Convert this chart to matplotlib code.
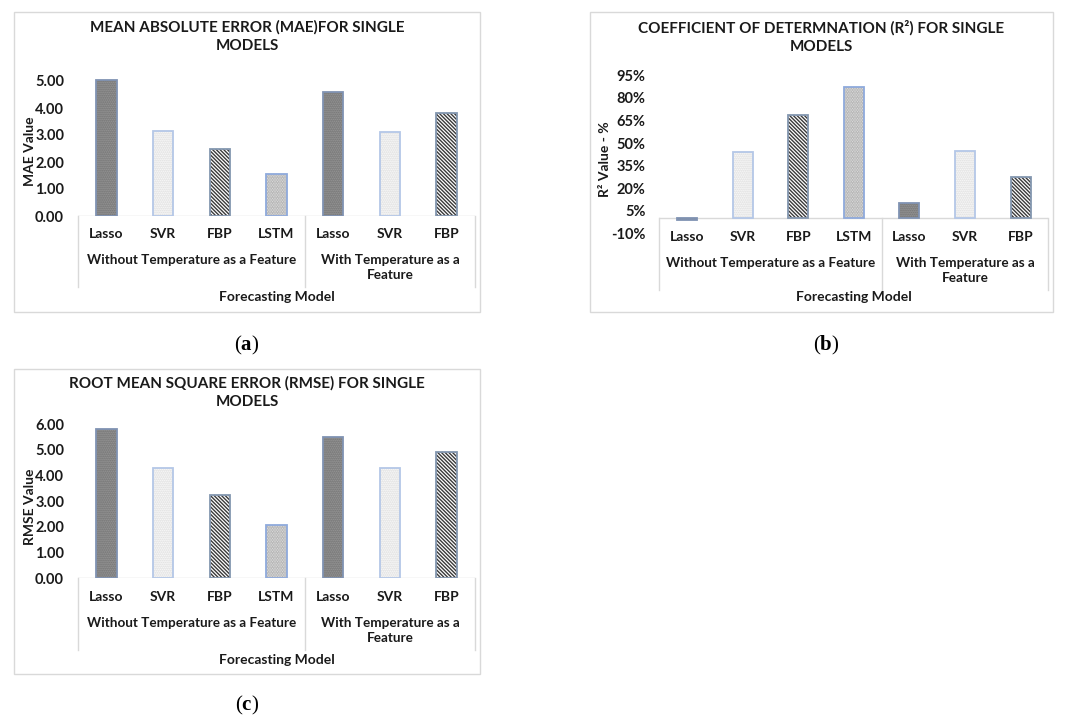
import matplotlib.pyplot as plt
import matplotlib.transforms as mtransforms
from matplotlib.patches import Rectangle
from matplotlib.ticker import FuncFormatter

plt.rcParams['font.family'] = ['Lato', 'DejaVu Sans']
plt.rcParams['hatch.linewidth'] = 1.0
plt.rcParams['mathtext.fontset'] = 'custom'
plt.rcParams['mathtext.rm'] = 'Liberation Serif'
plt.rcParams['mathtext.bf'] = 'Liberation Serif:bold'

W, H = 1067, 716

models = ["Lasso", "SVR", "FBP", "LSTM", "Lasso", "SVR", "FBP"]
groups = ["Without Temperature as a Feature", "With Temperature as a\nFeature"]
group_sizes = [4, 3]

mae = [5.02, 3.15, 2.50, 1.55, 4.59, 3.10, 3.80]
r2 = [-1.0, 44.2, 68.6, 87.2, 10.1, 44.8, 27.4]
rmse = [5.80, 4.31, 3.23, 2.06, 5.49, 4.28, 4.92]

# face, hatch, hatch colour, border colour
styles = {
    "Lasso": ("#9c9c9c", "........", "#6a6a6a", "#8093b3"),
    "SVR": ("#ffffff", "........", "#d6d6d6", "#b4c7e7"),
    "FBP": ("#ffffff", "\\" * 9, "#3a3a3a", "#8497b0"),
    "LSTM": ("#f4f4f4", "..........", "#a0a0a0", "#8faadc"),
}

fig = plt.figure(figsize=(W / 100, H / 100), dpi=100)


def fx(px):
    return px / W


def fy(py):
    return 1 - py / H


def panel(frame, box, values, ylim, yticks, fmt, title, ylabel, title_y,
          cat_y, grp_y, sep_bottom, xlab_y, ylab_x):
    # outer chart frame
    fig.patches.append(Rectangle((fx(frame[0]), fy(frame[3])),
                                 fx(frame[2] - frame[0]), (frame[3] - frame[1]) / H,
                                 transform=fig.transFigure, fill=False,
                                 edgecolor="#d9d9d9", linewidth=1))
    left, top, right, bottom = box
    ax = fig.add_axes([fx(left), fy(bottom), fx(right - left), (bottom - top) / H])
    for i, v in enumerate(values):
        face, hatch, hcol, ecol = styles[models[i]]
        ax.bar(i, v, width=0.36, color=face, hatch=hatch, edgecolor=hcol, linewidth=0)
        ax.bar(i, v, width=0.36, fill=False, edgecolor=ecol, linewidth=1.3)
    ax.set_xlim(-0.5, len(values) - 0.5)
    ax.set_ylim(*ylim)
    ax.set_yticks(yticks)
    ax.yaxis.set_major_formatter(FuncFormatter(fmt))
    ax.tick_params(axis='y', length=0, pad=10, labelsize=10.5)
    for lab in ax.get_yticklabels():
        lab.set_fontweight('bold')
        lab.set_color("#1a1a1a")
    ax.set_xticks([])
    for s in ax.spines.values():
        s.set_visible(False)
    ax.axhline(0, color="#d9d9d9", linewidth=1, zorder=0)

    tr = mtransforms.blended_transform_factory(ax.transData, fig.transFigure)
    for i, m in enumerate(models):
        ax.text(i, fy(cat_y), m, transform=tr, ha='center', va='center',
                fontsize=10, fontweight='bold', color="#1a1a1a")
    start = 0
    seps = [-0.5]
    for g, n in zip(groups, group_sizes):
        c = start + (n - 1) / 2
        ax.text(c, fy(grp_y), g, transform=tr, ha='center', va='top',
                fontsize=9.7, fontweight='bold', color="#1a1a1a", linespacing=1.3)
        start += n
        seps.append(start - 0.5)
    y0_fig = fig.transFigure.inverted().transform(ax.transData.transform((0, 0)))[1]
    for s in seps:
        ax.plot([s, s], [y0_fig, fy(sep_bottom)], transform=tr, color="#d9d9d9",
                linewidth=1, clip_on=False)
    ax.text((len(values) - 1) / 2, fy(xlab_y), "Forecasting Model", transform=tr,
            ha='center', va='center', fontsize=10, fontweight='bold', color="#1a1a1a")

    fig.text(fx((frame[0] + frame[2]) / 2), fy(title_y), title, ha='center', va='top',
             fontsize=11, fontweight='bold', color="#1a1a1a", linespacing=1.4)
    fig.text(fx(ylab_x), fy((top + bottom) / 2 + 5), ylabel, rotation=90, ha='center',
             va='center', fontsize=10, fontweight='bold', color="#1a1a1a")
    return ax


panel((14, 12, 480, 312), (78, 75.6, 475, 216), mae, (0, 5.2), [0, 1, 2, 3, 4, 5],
      lambda v, p: f"{v:.2f}", "MEAN ABSOLUTE ERROR (MAE)FOR SINGLE\nMODELS",
      "MAE Value", 20, 234, 254, 287, 297, 30)

panel((590, 12, 1053, 312), (659.3, 75.3, 1048.3, 233.3), r2, (-10, 95),
      [-10, 5, 20, 35, 50, 65, 80, 95], lambda v, p: f"{v:.0f}%",
      "COEFFICIENT OF DETERMNATION (R²) FOR SINGLE\nMODELS",
      "R² Value - %", 20, 237, 257, 290, 297, 605)

panel((14, 369, 480, 674), (78, 424.3, 475, 578.3), rmse, (0, 6), [0, 1, 2, 3, 4, 5, 6],
      lambda v, p: f"{v:.2f}", "ROOT MEAN SQUARE ERROR (RMSE) FOR SINGLE\nMODELS",
      "RMSE Value", 376, 597, 617, 650, 660, 30)

for lab, xc, yc in [("a", 247, 345), ("b", 826, 345), ("c", 247, 705)]:
    fig.text(fx(xc), fy(yc), r"($\mathbf{" + lab + "}$)", ha='center', va='center',
             fontsize=15, family='Liberation Serif')

fig.savefig("out.png", dpi=100)
